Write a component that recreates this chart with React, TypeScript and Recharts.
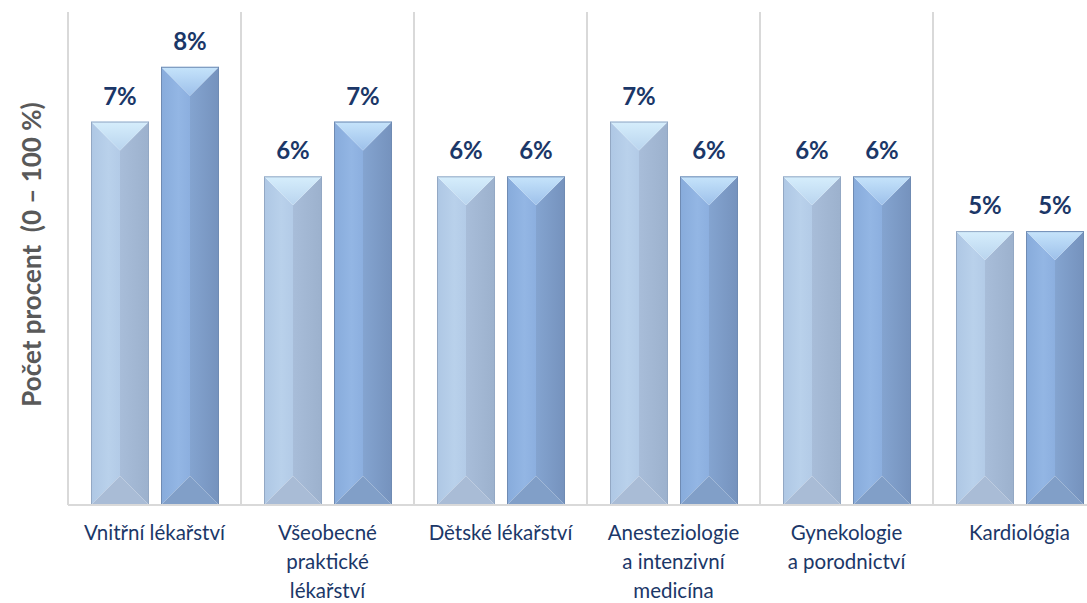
import React from 'react';
import { BarChart, Bar, XAxis, YAxis, CartesianGrid, LabelList } from 'recharts';

const categories = [
  'Vnitřní lékařství',
  'Všeobecné\npraktické\nlékařství',
  'Dětské lékařství',
  'Anesteziologie\na intenzivní\nmedicína',
  'Gynekologie\na porodnictví',
  'Kardiológia',
];
const seriesA = [7, 6, 6, 7, 6, 5];
const seriesB = [8, 7, 6, 6, 6, 5];

const data = categories.map((name, i) => ({ name, a: seriesA[i], b: seriesB[i] }));

const NAVY = '#1b3768';
const FONT = 'Lato, "Open Sans", sans-serif';

// bevelled bar like the office "bevel" effect
const makeBevel = (c: { bottom: string; edge: string; id: string }) =>
  (props: any) => {
    const { x, y, width: w, height: h } = props;
    if (!h || h <= 0) return null;
    const d = Math.min(w / 2, h / 2);
    const cx = x + w / 2;
    return (
      <g>
        <polygon points={`${x},${y} ${cx},${y + d} ${cx},${y + h - d} ${x},${y + h}`} fill={`url(#${c.id}L)`} />
        <polygon points={`${x + w},${y} ${cx},${y + d} ${cx},${y + h - d} ${x + w},${y + h}`} fill={`url(#${c.id}R)`} />
        <polygon points={`${x},${y} ${x + w},${y} ${cx},${y + d}`} fill={`url(#${c.id}T)`} />
        <polygon points={`${x},${y + h} ${x + w},${y + h} ${cx},${y + h - d}`} fill={c.bottom} />
        <rect x={x + 0.5} y={y + 0.5} width={w - 1} height={h - 1} fill="none" stroke={c.edge} strokeWidth={1} />
      </g>
    );
  };

const lightBar = makeBevel({ bottom: '#a9bcd6', edge: '#93a8c4', id: 'lb' });
const darkBar = makeBevel({ bottom: '#819fc8', edge: '#6f8bb3', id: 'db' });

const CatTick = (props: any) => {
  const { x, y, payload } = props;
  const lines = String(payload.value).split('\n');
  return (
    <text x={x} y={y + 27} textAnchor="middle" fill={NAVY} fontFamily={FONT} fontSize={20.5}>
      {lines.map((l, i) => (
        <tspan key={i} x={x} dy={i === 0 ? 0 : 29}>
          {l}
        </tspan>
      ))}
    </text>
  );
};

export default function App() {
  return (
    <div style={{ position: 'absolute', left: 0, top: 0, width: 1087, height: 603, overflow: 'hidden', background: '#fff' }}>
      <BarChart
        width={1106}
        height={603}
        data={data}
        margin={{ top: 12, right: 0, left: 0, bottom: 0 }}
        barCategoryGap={23}
        barGap={12}
      >
        <defs>
          <linearGradient id="lbL" x1="0" y1="0" x2="1" y2="0">
            <stop offset="0%" stopColor="#aec7e4" />
            <stop offset="60%" stopColor="#b9d1eb" />
            <stop offset="100%" stopColor="#b3cbe7" />
          </linearGradient>
          <linearGradient id="lbR" x1="0" y1="0" x2="1" y2="0">
            <stop offset="0%" stopColor="#a8bdd9" />
            <stop offset="100%" stopColor="#9cb1cd" />
          </linearGradient>
          <linearGradient id="lbT" x1="0" y1="0" x2="0" y2="1">
            <stop offset="0%" stopColor="#d6eefc" />
            <stop offset="100%" stopColor="#b9d4ee" />
          </linearGradient>
          <linearGradient id="dbL" x1="0" y1="0" x2="1" y2="0">
            <stop offset="0%" stopColor="#87abdb" />
            <stop offset="60%" stopColor="#93b6e4" />
            <stop offset="100%" stopColor="#8cafdf" />
          </linearGradient>
          <linearGradient id="dbR" x1="0" y1="0" x2="1" y2="0">
            <stop offset="0%" stopColor="#84a4d0" />
            <stop offset="100%" stopColor="#7592bd" />
          </linearGradient>
          <linearGradient id="dbT" x1="0" y1="0" x2="0" y2="1">
            <stop offset="0%" stopColor="#c6e4fb" />
            <stop offset="100%" stopColor="#9dc0ea" />
          </linearGradient>
        </defs>
        <CartesianGrid
          horizontal={false}
          stroke="#d9d9d9"
          strokeWidth={2}
          verticalCoordinatesGenerator={({ offset }: any) =>
            categories.map((_, i) => offset.left + (i * offset.width) / categories.length)
          }
        />
        <XAxis
          dataKey="name"
          height={98}
          interval={0}
          tickLine={false}
          axisLine={{ stroke: '#d9d9d9', strokeWidth: 2 }}
          tick={<CatTick />}
        />
        <YAxis
          width={68}
          domain={[0, 9]}
          tick={false}
          axisLine={false}
          tickLine={false}
          label={{
            value: 'Počet procent\u00a0 (0 – 100 %)',
            angle: -90,
            position: 'center',
            dx: -2,
            dy: -4,
            fill: '#595959',
            fontSize: 26,
            fontWeight: 700,
            fontFamily: FONT,
          }}
        />
        <Bar dataKey="a" shape={lightBar} isAnimationActive={false}>
          <LabelList
            dataKey="a"
            position="top"
            offset={17}
            formatter={(v: any) => `${v}%`}
            fill={NAVY}
            fontSize={24}
            fontWeight={700}
            fontFamily={FONT}
          />
        </Bar>
        <Bar dataKey="b" shape={darkBar} isAnimationActive={false}>
          <LabelList
            dataKey="b"
            position="top"
            offset={17}
            formatter={(v: any) => `${v}%`}
            fill={NAVY}
            fontSize={24}
            fontWeight={700}
            fontFamily={FONT}
          />
        </Bar>
      </BarChart>
    </div>
  );
}
